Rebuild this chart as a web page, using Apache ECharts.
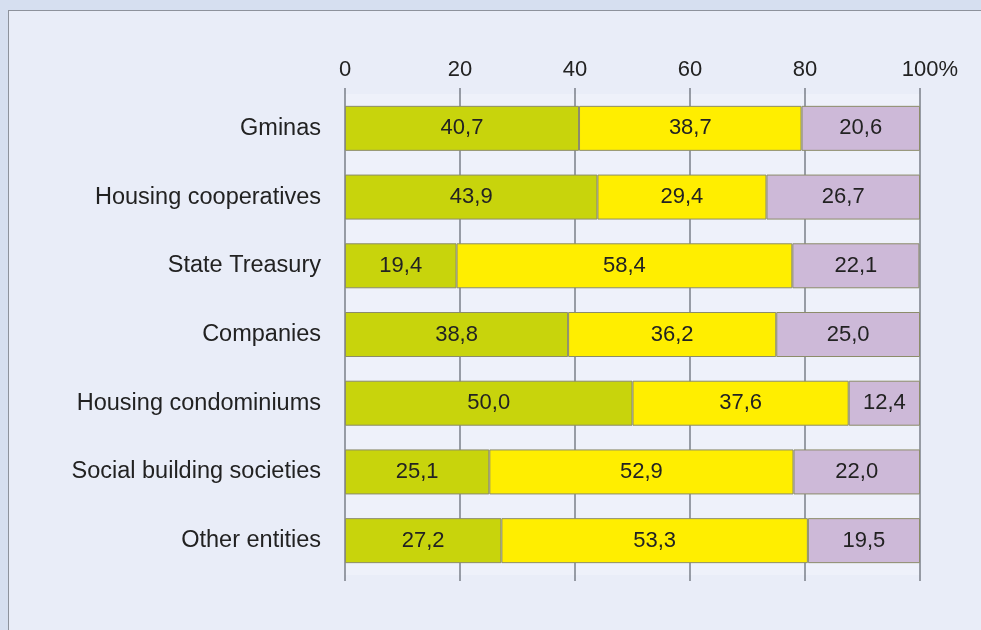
<!DOCTYPE html>
<html>
<head>
<meta charset="utf-8">
<script src="https://cdn.jsdelivr.net/npm/echarts@6/dist/echarts.min.js"></script>
<style>
html,body{margin:0;padding:0;width:981px;height:630px;overflow:hidden;background:#d6dff0;}
#frame{position:absolute;left:8px;top:10px;width:1000px;height:650px;background:#e9edf8;border:1px solid #8d929c;box-sizing:border-box;}
#chart{position:absolute;left:0;top:0;width:981px;height:630px;}
</style>
</head>
<body>
<div id="frame"></div>
<div id="chart"></div>
<script>
const categories = ["Gminas","Housing cooperatives","State Treasury","Companies","Housing condominiums","Social building societies","Other entities"];
const greenValues = [40.7,43.9,19.4,38.8,50.0,25.1,27.2];
const yellowValues = [38.7,29.4,58.4,36.2,37.6,52.9,53.3];
const lilacValues = [20.6,26.7,22.1,25.0,12.4,22.0,19.5];
const tickValues = [0,20,40,60,80,100];

const fontFamily = '"Liberation Sans", Arial, Helvetica, sans-serif';
const textColor = '#222222';
const fmt = v => v.toFixed(1).replace('.', ',');

function seg(name, data, color) {
  return {
    name: name,
    type: 'bar',
    stack: 'total',
    data: data,
    barWidth: 45,
    itemStyle: { color: color, borderColor: '#8c8c6a', borderWidth: 1 },
    label: {
      show: true,
      position: 'inside',
      formatter: p => fmt(p.value),
      color: textColor,
      fontSize: 22,
      fontFamily: fontFamily
    },
    emphasis: { disabled: true }
  };
}

const chart = echarts.init(document.getElementById('chart'), null, { renderer: 'canvas' });
chart.setOption({
  animation: false,
  backgroundColor: 'transparent',
  grid: { left: 345, right: 61, top: 94, bottom: 55, show: true, backgroundColor: '#eef1fa', borderWidth: 0 },
  xAxis: [{
    type: 'value',
    position: 'top',
    min: 0, max: 100, interval: 20,
    axisLine: { show: false },
    axisTick: { show: true, length: 6, lineStyle: { color: '#7a7f88', width: 1.5 } },
    splitLine: { show: true, lineStyle: { color: '#7a7f88', width: 1.5 } },
    axisLabel: {
      margin: 13,
      color: textColor, fontSize: 22, fontFamily: fontFamily,
      formatter: v => v === tickValues[tickValues.length - 1] ? '{r|' + v + '%}' : String(v),
      rich: { r: { padding: [0, 0, 0, 20], color: textColor, fontSize: 22, fontFamily: fontFamily } }
    }
  }, {
    type: 'value',
    position: 'bottom',
    min: 0, max: 100, interval: 20,
    axisLine: { show: false },
    axisTick: { show: true, length: 6, lineStyle: { color: '#7a7f88', width: 1.5 } },
    splitLine: { show: false },
    axisLabel: { show: false }
  }],
  yAxis: {
    type: 'category',
    data: categories,
    inverse: true,
    axisLine: { show: false },
    axisTick: { show: false },
    axisLabel: { margin: 24, color: textColor, fontSize: 23.5, fontFamily: fontFamily }
  },
  series: [
    seg('green', greenValues, '#c8d40c'),
    seg('yellow', yellowValues, '#ffee00'),
    seg('lilac', lilacValues, '#cdb9d8')
  ]
});
</script>
</body>
</html>
